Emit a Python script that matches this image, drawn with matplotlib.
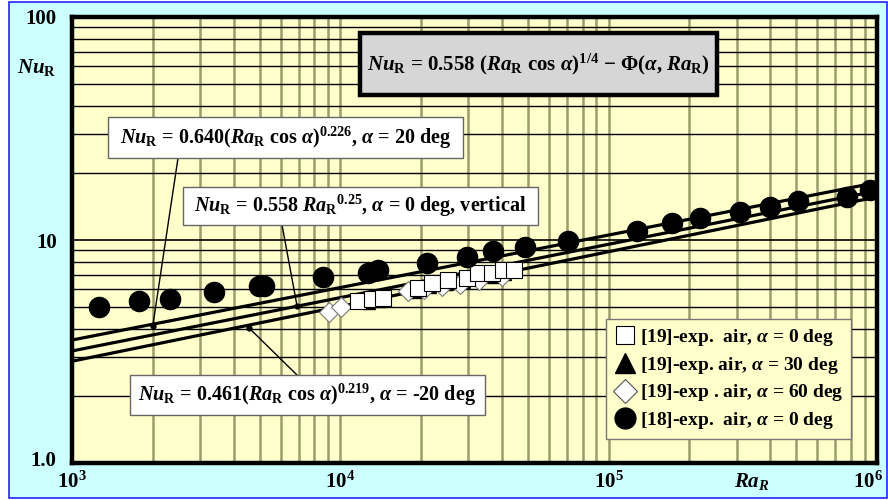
import matplotlib
matplotlib.use('Agg')
import matplotlib.pyplot as plt
import matplotlib.transforms as mtransforms
from matplotlib.patches import Rectangle
from matplotlib.lines import Line2D
from matplotlib.ticker import NullFormatter

FILE_PNG = "out.png"

plt.rcParams['font.family'] = ['Liberation Serif', 'DejaVu Serif']
plt.rcParams['font.weight'] = 'bold'
plt.rcParams['mathtext.fontset'] = 'custom'
plt.rcParams['mathtext.rm'] = 'Liberation Serif:bold'
plt.rcParams['mathtext.it'] = 'Liberation Serif:italic:bold'
plt.rcParams['mathtext.bf'] = 'Liberation Serif:bold'

# --- data ---
# [18]-exp. air, alpha = 0 deg (black circles)
ra_18 = [1257, 1773, 2312, 3373, 4966, 5195, 8645, 12720, 13860, 20990, 29600,
         37150, 48750, 70750, 127200, 171800, 219000, 309000, 399500, 509500,
         771000, 941500]
nu_18 = [4.99, 5.35, 5.44, 5.83, 6.22, 6.22, 6.80, 7.09, 7.34, 7.86, 8.41,
         8.95, 9.33, 9.93, 11.0, 11.88, 12.5, 13.4, 14.1, 15.0, 15.6, 16.8]

# [19]-exp. air, alpha = 0 deg (white squares)
ra_19_0 = [11660, 13090, 14390, 19440, 22030, 25270, 29590, 32690, 36640, 40270, 44360]
nu_19_0 = [5.35, 5.44, 5.51, 6.07, 6.40, 6.62, 6.73, 7.09, 7.09, 7.34, 7.34]

# [19]-exp. air, alpha = 30 deg (black triangles, mostly hidden)
ra_19_30 = [12800, 14000, 19000, 21500, 25000, 29000, 33000, 37000, 41000]
nu_19_30 = [5.20, 5.30, 5.85, 6.15, 6.35, 6.50, 6.80, 6.85, 7.05]

# [19]-exp. air, alpha = 60 deg (white diamonds)
ra_19_60 = [9100, 10060, 17930, 20500, 24000, 28000, 33000, 40000]
nu_19_60 = [4.77, 4.99, 5.93, 6.00, 6.20, 6.35, 6.60, 6.90]

# correlation lines, values at both ends of the Ra range
ra_line = [1e3, 1e6]
nu_line_640 = [3.56, 18.1]
nu_line_558 = [3.18, 16.6]
nu_line_461 = [2.86, 15.6]

# points where the label leaders touch the lines
ra_lead = [2000, 6900, 4570]
nu_lead = [4.12, 5.05, 4.03]

x_ticks = [1e3, 1e4, 1e5, 1e6]
x_labels = ['$10^3$', '$10^4$', '$10^5$', '$10^6$']
y_ticks = [1, 10, 100]
y_labels = ['1.0', '10', '100']

# --- figure ---
fig = plt.figure(figsize=(8.88, 5), dpi=100, facecolor='white')
fig.patches.append(Rectangle((9/888, 2/500), 878/888, 496/500, transform=fig.transFigure,
                             facecolor='#ccffff', edgecolor='#2222ff', lw=1.2, zorder=-10))

ax = fig.add_axes([72/888, 37/500, 805/888, 446/500])
ax.set_facecolor('#ffffcc')
ax.set_xscale('log')
ax.set_yscale('log')
ax.set_xlim(1e3, 1e6)
ax.set_ylim(1, 100)
ax.set_axisbelow(True)

ax.grid(which='major', axis='y', color='black', lw=1.2)
ax.grid(which='minor', axis='y', color='black', lw=1.0)
ax.grid(which='both', axis='x', color='#9c9c6c', lw=1.8)
for s in ax.spines.values():
    s.set_linewidth(3.2)

ax.set_xticks(x_ticks, x_labels)
ax.set_yticks(y_ticks, y_labels)
ax.xaxis.set_minor_formatter(NullFormatter())
ax.yaxis.set_minor_formatter(NullFormatter())
ax.tick_params(which='both', length=0)
ax.tick_params(axis='x', pad=6, labelsize=15)
ax.tick_params(axis='y', pad=11, labelsize=15)

# keep the last x label inside the picture
last = ax.get_xticklabels()[-1]
last.set_transform(last.get_transform() + mtransforms.ScaledTranslation(-9/100, 0, fig.dpi_scale_trans))
# "1.0" sits a little above the bottom edge
first = ax.get_yticklabels()[0]
first.set_transform(first.get_transform() + mtransforms.ScaledTranslation(0, 5/100, fig.dpi_scale_trans))

# correlation lines
for nu in (nu_line_640, nu_line_558, nu_line_461):
    ax.plot(ra_line, nu, color='black', lw=2.3, zorder=3, solid_capstyle='butt')

# experimental points
ax.plot(ra_19_30, nu_19_30, '^', ms=8, color='black', zorder=4)
ax.plot(ra_19_60, nu_19_60, 'D', ms=10, mfc='white', mec='#777777', mew=0.8, zorder=4)
ax.plot(ra_19_0, nu_19_0, 's', ms=12, mfc='white', mec='black', mew=0.8, zorder=5)
ax.plot(ra_18, nu_18, 'o', ms=14.5, color='black', zorder=5)

# label boxes (axes fraction)
def box(x0, y0, x1, y1, text, fc, ec, lw, fs):
    ax.add_patch(Rectangle((x0, y0), x1 - x0, y1 - y0, transform=ax.transAxes,
                           facecolor=fc, edgecolor=ec, lw=lw, zorder=7, clip_on=False))
    ax.text((x0 + x1) / 2, (y0 + y1) / 2, text, transform=ax.transAxes,
            ha='center', va='center', fontsize=fs, zorder=8)

box(0.3578, 0.8251, 0.8012, 0.9641,
    r'$Nu_{\rm R}$ = 0.558 ($Ra_{\rm R}$ cos $\alpha$)$^{1/4}$ $-$ $\Phi$($\alpha$, $Ra_{\rm R}$)',
    '#d6d6d6', 'black', 3.2, 15)
box(0.0447, 0.6839, 0.4857, 0.7758,
    r'$Nu_{\rm R}$ = 0.640($Ra_{\rm R}$ cos $\alpha$)$^{0.226}$, $\alpha$ = 20 deg',
    'white', '#666666', 1.0, 14.5)
box(0.1379, 0.5336, 0.5789, 0.6188,
    r'$Nu_{\rm R}$ = 0.558 $Ra_{\rm R}$$^{0.25}$, $\alpha$ = 0 deg, vertical',
    'white', '#666666', 1.0, 14.5)
box(0.0720, 0.1076, 0.5130, 0.1973,
    r'$Nu_{\rm R}$ = 0.461($Ra_{\rm R}$ cos $\alpha$)$^{0.219}$, $\alpha$ = -20 deg',
    'white', '#666666', 1.0, 14.5)

# leaders from the boxes to the lines
lead_from = [(0.1317, 0.6839), (0.2609, 0.5336), (0.2795, 0.1973)]
for (fx, fy), ra, nu in zip(lead_from, ra_lead, nu_lead):
    ax.annotate('', xy=(ra, nu), xycoords='data', xytext=(fx, fy), textcoords='axes fraction',
                arrowprops=dict(arrowstyle='-', color='black', lw=1.0, shrinkA=0, shrinkB=0),
                zorder=6)
ax.plot(ra_lead, nu_lead, 'o', ms=3.5, color='black', zorder=6)

# legend
handles = [
    Line2D([], [], ls='', marker='s', ms=13, mfc='white', mec='black', mew=0.8),
    Line2D([], [], ls='', marker='^', ms=15, color='black'),
    Line2D([], [], ls='', marker='D', ms=12, mfc='white', mec='#555555', mew=0.8),
    Line2D([], [], ls='', marker='o', ms=15, color='black'),
]
labels = [r'[19]-exp.  air, $\alpha$ = 0 deg', r'[19]-exp. air, $\alpha$ = 30 deg',
          r'[19]-exp . air, $\alpha$ = 60 deg', r'[18]-exp.  air, $\alpha$ = 0 deg']
leg = ax.legend(handles, labels, loc='upper left', bbox_to_anchor=(0.6634, 0.3229),
                fontsize=14, frameon=True, fancybox=False, framealpha=1,
                facecolor='#ffffcc', edgecolor='#777777', handlelength=1.1,
                handletextpad=0.25, labelspacing=0.35, borderpad=0.4, borderaxespad=0)
leg.get_frame().set_linewidth(1.0)
leg.set_zorder(9)

fig.text(37/888, 1 - 68/500, r'$Nu_{\rm R}$', fontsize=15, ha='center', va='center')
fig.text(752/888, 1 - 482/500, r'$Ra_R$', fontsize=15, ha='center', va='center')

print(f'generate {FILE_PNG}')
plt.savefig(FILE_PNG, dpi=100)
